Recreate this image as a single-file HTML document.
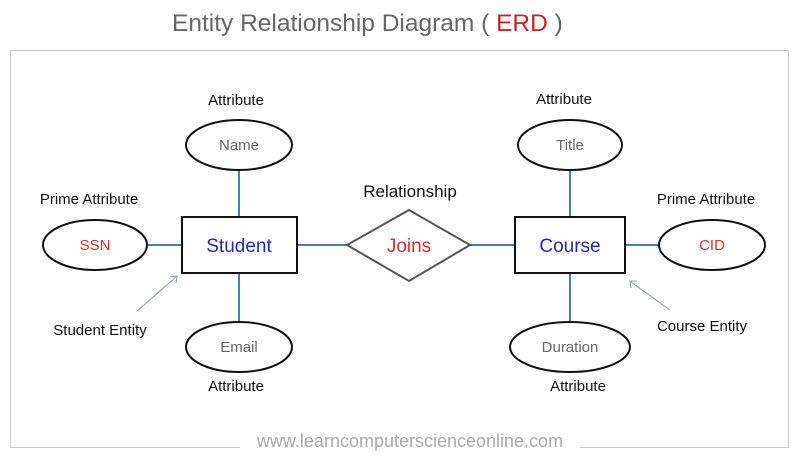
<!DOCTYPE html>
<html><head><meta charset="utf-8"><style>
html,body{margin:0;padding:0;background:#fff;width:800px;height:460px;overflow:hidden}
svg{display:block}
text{font-family:"Liberation Sans",sans-serif}
</style></head><body>
<svg width="800" height="460" viewBox="0 0 800 460" xmlns="http://www.w3.org/2000/svg">
<text x="172" y="31" font-size="24.5" fill="#666">Entity Relationship Diagram ( <tspan fill="#c0272d">ERD</tspan> )</text>
<rect x="10.5" y="50.5" width="778" height="397" fill="#fff" stroke="#ccc" stroke-width="1"/>
<rect x="240" y="434" width="340" height="22" fill="#fff"/>
<text x="410" y="447" font-size="18" fill="#aaa" text-anchor="middle">www.learncomputerscienceonline.com</text>
<g stroke="#4a7eb0" stroke-width="2">
<line x1="239" y1="170" x2="239" y2="217"/>
<line x1="239" y1="273" x2="239" y2="322"/>
<line x1="148" y1="245" x2="182" y2="245"/>
<line x1="297" y1="245" x2="347" y2="245"/>
<line x1="470" y1="245" x2="515" y2="245"/>
<line x1="570" y1="170" x2="570" y2="217"/>
<line x1="570" y1="273" x2="570" y2="322"/>
<line x1="625" y1="245" x2="659" y2="245"/>
</g>
<g fill="#fff" stroke="#111" stroke-width="2">
<ellipse cx="239" cy="145" rx="53" ry="25"/>
<ellipse cx="239" cy="347" rx="53" ry="25"/>
<ellipse cx="95" cy="245" rx="52" ry="25"/>
<ellipse cx="570" cy="145" rx="52" ry="25"/>
<ellipse cx="570" cy="347" rx="60" ry="25"/>
<ellipse cx="712" cy="245" rx="53" ry="25"/>
<rect x="182" y="217" width="115" height="56"/>
<rect x="515" y="217" width="110" height="56"/>
</g>
<polygon points="347,245 409,210 470,245 409,281" fill="#fff" stroke="#555" stroke-width="2"/>
<g font-size="15" text-anchor="middle">
<text x="239" y="150" fill="#666">Name</text>
<text x="239" y="352" fill="#666">Email</text>
<text x="95" y="250" fill="#d0303a">SSN</text>
<text x="570" y="150" fill="#666">Title</text>
<text x="570" y="352" fill="#666">Duration</text>
<text x="712" y="250" fill="#d0303a">CID</text>
<text x="239" y="252" font-size="19" fill="#2828b8">Student</text>
<text x="570" y="252" font-size="19" fill="#2828b8">Course</text>
<text x="409" y="252" font-size="19" fill="#d0303a">Joins</text>
</g>
<g font-size="15" fill="#111" text-anchor="middle">
<text x="236" y="105">Attribute</text>
<text x="564" y="104">Attribute</text>
<text x="236" y="391">Attribute</text>
<text x="578" y="391">Attribute</text>
<text x="89" y="204">Prime Attribute</text>
<text x="706" y="204">Prime Attribute</text>
<text x="100" y="335">Student Entity</text>
<text x="702" y="331">Course Entity</text>
<text x="410" y="197" font-size="17">Relationship</text>
</g>
<g stroke="#8a9ab0" stroke-width="1" fill="none">
<line x1="137" y1="311" x2="176" y2="277"/>
<polyline points="170,277 177,276 176,283"/>
<line x1="670" y1="310" x2="631" y2="282"/>
<polyline points="631,288 630,281 637,281"/>
</g>
</svg>
</body></html>
